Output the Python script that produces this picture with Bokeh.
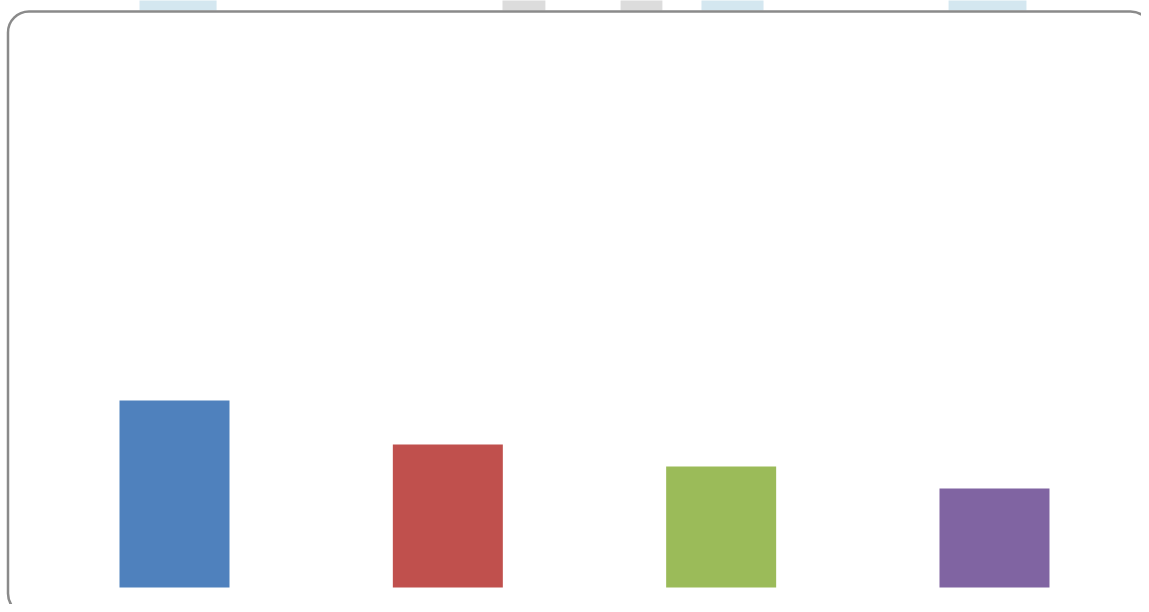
from bokeh.plotting import figure
from bokeh.models import BoxAnnotation, ColumnDataSource, Range1d
from bokeh.embed import file_html
from bokeh.resources import INLINE

# ---- data ----
categories = ["1", "2", "3", "4"]
values = [8.5, 6.5, 5.5, 4.5]
bar_colors = ["#4f81bd", "#c0504d", "#9bbb59", "#8064a2"]

# fragments of an element above the chart (cut off at the top of the picture)
strip_left = [-0.128, 1.200, 1.632, 1.928, 2.832]
strip_right = [0.154, 1.357, 1.785, 2.155, 3.117]
strip_colors = ["#d4e7f0", "#dcdcdc", "#dcdcdc", "#d4e7f0", "#d4e7f0"]

# ---- layout ----
W, H = 1141, 604
px_per_cat = 273.33
first_center_px = 174.0
px_per_unit = 22.0
baseline_px = 587.0  # from top of canvas

x0 = -first_center_px / px_per_cat
x1 = x0 + W / px_per_cat
y0 = -(H - baseline_px) / px_per_unit
y1 = y0 + H / px_per_unit

def cx(px):
    return x0 + px / px_per_cat

def cy(py):  # canvas pixel from top -> data
    return y0 + (H - py) / px_per_unit

p = figure(width=W, height=H, output_backend="svg", toolbar_location=None,
           x_range=Range1d(x0, x1), y_range=Range1d(y0, y1),
           min_border=0, min_border_left=0, min_border_right=0,
           min_border_top=0, min_border_bottom=0)
p.axis.visible = False
p.grid.visible = False
p.outline_line_color = None
p.background_fill_color = "white"
p.border_fill_color = "white"

xs = list(range(len(categories)))
src = ColumnDataSource(dict(x=xs, top=values, color=bar_colors, cat=categories))
p.vbar(x="x", top="top", bottom=0, width=110 / px_per_cat, color="color",
       line_color=None, source=src)

strip_src = ColumnDataSource(dict(left=strip_left, right=strip_right, color=strip_colors,
                                  bottom=[cy(10)] * len(strip_left),
                                  top=[y1 + 5] * len(strip_left)))
p.quad(left="left", right="right", bottom="bottom", top="top", color="color",
       line_color=None, source=strip_src)

frame = BoxAnnotation(left=cx(7.5), right=cx(1151), top=cy(11), bottom=cy(614),
                      fill_alpha=0, line_color="#8a8a8a", line_alpha=1.0,
                      line_width=2.5, border_radius=21, level="overlay")
p.add_layout(frame)

open("out.html", "w").write(file_html(p, INLINE))
